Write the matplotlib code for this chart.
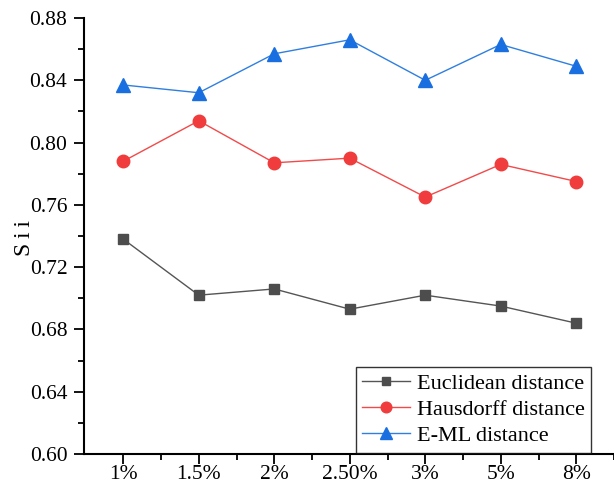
import matplotlib
matplotlib.use("Agg")
import matplotlib.pyplot as plt
from matplotlib.ticker import MultipleLocator

categories = ["1%", "1.5%", "2%", "2.50%", "3%", "5%", "8%"]
euclidean = [0.738, 0.702, 0.706, 0.693, 0.702, 0.695, 0.684]
hausdorff = [0.788, 0.814, 0.787, 0.790, 0.765, 0.786, 0.775]
eml = [0.837, 0.832, 0.857, 0.866, 0.840, 0.863, 0.849]
series_names = ["Euclidean distance", "Hausdorff distance", "E-ML distance"]

plt.rcParams['font.family'] = ['Liberation Serif', 'DejaVu Serif']

fig = plt.figure(figsize=(6.14, 4.87), dpi=100)
ax = fig.add_axes([84/614, 33/487, 530/614, (454-18)/487])

x = list(range(len(categories)))
ax.plot(x, euclidean, color="#555555", lw=1.0, marker="s", ms=7.5,
        mfc="#4d4d4d", mec="#4d4d4d", label=series_names[0])
ax.plot(x, hausdorff, color="#f24a4a", lw=1.0, marker="o", ms=9,
        mfc="#f03c3c", mec="#f03c3c", label=series_names[1])
ax.plot(x, eml, color="#2f7fe0", lw=1.0, marker="^", ms=9.5,
        mfc="#1a6fe0", mec="#1a6fe0", label=series_names[2])

ax.set_xlim(-0.52, 6.39)
ax.set_ylim(0.60, 0.88)
ax.set_xticks(x)
ax.set_xticklabels(categories)
ax.yaxis.set_major_locator(MultipleLocator(0.04))
ax.yaxis.set_minor_locator(MultipleLocator(0.02))
ax.set_yticklabels([f"{v:.2f}" for v in ax.get_yticks()])
ax.set_xticks([i + 0.5 for i in range(len(categories) - 1)] + [6.5], minor=True)

for s in ["top", "right"]:
    ax.spines[s].set_visible(False)
for s in ["left", "bottom"]:
    ax.spines[s].set_linewidth(1.5)

ax.tick_params(axis="both", which="major", direction="out", length=7, width=1.3,
               labelsize=15.5, colors="black")
ax.tick_params(axis="both", which="minor", direction="out", length=4, width=1.3)
ax.tick_params(axis="x", pad=1)
ax.tick_params(axis="y", pad=5)

fig.text(25/614, 1 - 238/487, "S\u2009i\u2009i", rotation=90, fontsize=17,
         ha="center", va="center")

leg = ax.legend(loc="lower right", bbox_to_anchor=(0.957, 0.003), fontsize=16,
                frameon=True, fancybox=False, edgecolor="black",
                handlelength=2.15, borderpad=0.3, labelspacing=0.25,
                handletextpad=0.3, borderaxespad=0.0, markerscale=0.85)
leg.get_frame().set_linewidth(1.0)

fig.savefig("out.png", dpi=100)
